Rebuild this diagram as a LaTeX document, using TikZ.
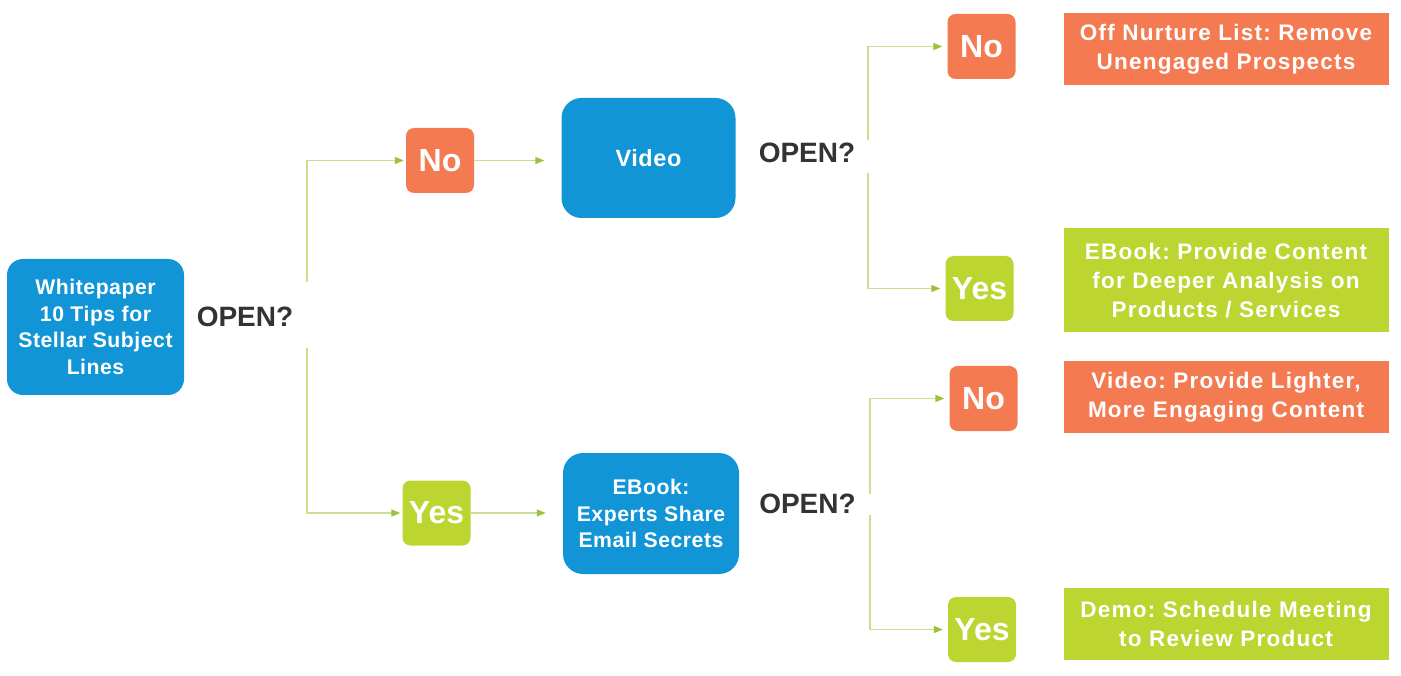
\documentclass[tikz,border=0pt]{standalone}
\usepackage{fontspec}
\setmainfont{Liberation Sans}
\newfontfamily\widefont[LetterSpace=5.5]{Liberation Sans}
\newfontfamily\midfont[LetterSpace=2.5]{Liberation Sans}
\usetikzlibrary{arrows.meta}
\definecolor{cblue}{HTML}{1195D6}
\definecolor{corange}{HTML}{F47B51}
\definecolor{cgreen}{HTML}{BDD531}
\definecolor{cline}{HTML}{C9E08E}
\definecolor{ctip}{HTML}{9DC23A}
\definecolor{ctext}{HTML}{333333}
\frenchspacing
\begin{document}
\begin{tikzpicture}[x=1pt,y=-1pt,
  bluebox/.style={fill=cblue, rounded corners=16pt, text=white, font=\midfont\bfseries\fontsize{21.2}{26.5}\selectfont, align=center, inner sep=0pt},
  ansno/.style={fill=corange, rounded corners=8pt, text=white, font=\bfseries\fontsize{32}{36}\selectfont, minimum width=68pt, minimum height=65pt, inner sep=0pt},
  ansyes/.style={ansno, fill=cgreen},
  result/.style={text=white, font=\widefont\bfseries\fontsize{22.5}{29}\selectfont, align=center, minimum width=325pt, inner sep=0pt},
  q/.style={text=ctext, font=\bfseries\fontsize{28}{30}\selectfont},
  conn/.style={draw=cline, line width=1.5pt, -{Triangle[length=9pt,width=7pt,color=ctip]}}
]
\path[use as bounding box] (0,0) rectangle (1401,676);

\node[bluebox, minimum width=177pt, minimum height=136pt] (wp) at (95.5,327) {Whitepaper\\10 Tips for\\Stellar Subject\\Lines};
\node[q] (q1) at (245,317) {OPEN?};
\node[ansno] (no1) at (440,160.5) {No};
\node[ansyes] (yes1) at (436.5,513) {Yes};
\node[bluebox, minimum width=174pt, minimum height=120pt, rounded corners=20pt, font=\midfont\bfseries\fontsize{23.5}{27}\selectfont] (vid) at (648.5,158) {Video};
\node[bluebox, minimum width=176pt, minimum height=121pt, rounded corners=20pt, font=\midfont\bfseries\fontsize{21.2}{26.5}\selectfont] (eb) at (651,513.5) {EBook:\\Experts Share\\Email Secrets};
\node[q] (q2) at (807,153) {OPEN?};
\node[q] (q3) at (807.5,504) {OPEN?};
\node[ansno] (no2) at (981.5,46.5) {No};
\node[ansyes] (yes2) at (979.5,288.5) {Yes};
\node[ansno] (no3) at (983.5,398.5) {No};
\node[ansyes] (yes3) at (982,629.5) {Yes};

\node[result, fill=corange, minimum height=72pt] (r1) at (1226,49) {Off Nurture List: Remove\\Unengaged Prospects};
\node[result, fill=cgreen, minimum height=104pt] (r2) at (1226,280.5) {EBook: Provide Content\\for Deeper Analysis on\\Products / Services};
\node[result, fill=corange, minimum height=72pt] (r3) at (1226,397) {Video: Provide Lighter,\\More Engaging Content};
\node[result, fill=cgreen, minimum height=72pt] (r4) at (1226,624) {Demo: Schedule Meeting\\to Review Product};

\coordinate (b1t) at (307,282);
\coordinate (b1b) at (307,348);
\coordinate (b2t) at (868,140);
\coordinate (b2b) at (868,173);
\coordinate (b3t) at (870,494);
\coordinate (b3b) at (870,515);

\draw[conn, shorten >=2pt] (b1t) |- (no1.west);
\draw[conn, shorten >=2pt] (b1b) |- (yes1.west);
\draw[conn, shorten >=17pt] (no1.east) -- (no1.east -| vid.west);
\draw[conn, shorten >=17pt] (yes1.east) -- (yes1.east -| eb.west);
\draw[conn, shorten >=5pt] (b2t) |- (no2.west);
\draw[conn, shorten >=5pt] (b2b) |- (yes2.west);
\draw[conn, shorten >=5pt] (b3t) |- (no3.west);
\draw[conn, shorten >=5pt] (b3b) |- (yes3.west);
\end{tikzpicture}
\end{document}
